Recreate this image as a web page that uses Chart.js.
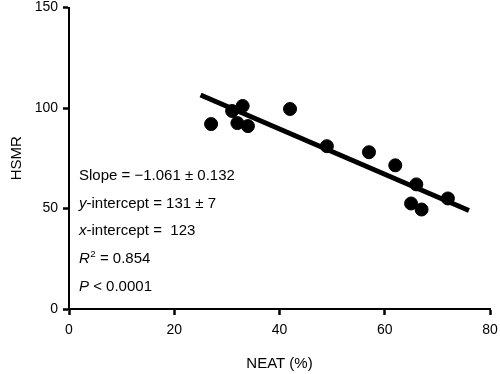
<!DOCTYPE html>
<html>
<head>
<meta charset="utf-8">
<script src="https://cdn.jsdelivr.net/npm/chart.js@4"></script>
<style>
html,body{margin:0;padding:0;background:#fff;}
#wrap{width:500px;height:374px;position:relative;}
</style>
</head>
<body>
<div id="wrap"><canvas id="c" width="500" height="374"></canvas></div>
<script>
// Data
const neat = [27, 31, 33, 32, 34, 42, 49, 57, 62, 66, 65, 67, 72];
const hsmr = [92, 98.5, 101, 92.5, 91, 99.5, 81, 78, 71.5, 62, 52.5, 49.5, 55];
const fitX = [25, 76];
const fitY = [106.5, 49];
const xTicks = [0, 20, 40, 60, 80];
const yTicks = [0, 50, 100, 150];
const xTitle = 'NEAT (%)';
const yTitle = 'HSMR';
// annotation lines: segments [text, style] where style: n normal, i italic, s superscript
const statLines = [
  [['Slope = \u22121.061 \u00b1 0.132', 'n']],
  [['y', 'i'], ['-intercept = 131 \u00b1 7', 'n']],
  [['x', 'i'], ['-intercept =  123', 'n']],
  [['R', 'i'], ['2', 's'], [' = 0.854', 'n']],
  [['P', 'i'], [' < 0.0001', 'n']]
];

const FONT = '"Liberation Sans", Arial, Helvetica, sans-serif';

const statsPlugin = {
  id: 'stats',
  afterDraw(chart) {
    const ctx = chart.ctx;
    const ca = chart.chartArea;
    const x0 = ca.left + 10;
    const y0 = 180;
    const step = 27.7;
    const size = 15;
    ctx.save();
    ctx.fillStyle = '#000';
    ctx.textBaseline = 'alphabetic';
    ctx.textAlign = 'left';
    statLines.forEach((segs, i) => {
      let x = x0;
      const y = y0 + i * step;
      segs.forEach(([t, st]) => {
        if (st === 's') {
          ctx.font = (size * 0.65) + 'px ' + FONT;
          ctx.fillText(t, x + 0.5, y - size * 0.42);
          x += ctx.measureText(t).width + 0.5;
        } else {
          ctx.font = (st === 'i' ? 'italic ' : '') + size + 'px ' + FONT;
          ctx.fillText(t, x, y);
          x += ctx.measureText(t).width;
        }
      });
    });
    ctx.restore();
  }
};

new Chart(document.getElementById('c'), {
  type: 'scatter',
  data: {
    datasets: [
      {
        type: 'line',
        data: fitX.map((x, i) => ({x: x, y: fitY[i]})),
        borderColor: '#000',
        borderWidth: 5,
        pointRadius: 0,
        fill: false,
        order: 2
      },
      {
        data: neat.map((x, i) => ({x: x, y: hsmr[i]})),
        backgroundColor: '#000',
        borderColor: '#000',
        pointRadius: 6.5,
        pointHoverRadius: 6.5,
        order: 1
      }
    ]
  },
  options: {
    responsive: false,
    animation: false,
    events: [],
    layout: { padding: { top: 5, right: 10, left: 0, bottom: 0 } },
    plugins: { legend: { display: false }, tooltip: { enabled: false } },
    scales: {
      x: {
        type: 'linear',
        min: 0, max: 80,
        afterBuildTicks: s => { s.ticks = xTicks.map(v => ({value: v})); },
        afterFit: s => { s.height = 65; s.paddingLeft = 0; s.paddingRight = 0; },
        grid: { drawOnChartArea: false, tickLength: 6, tickWidth: 2.5, tickColor: '#000' },
        border: { display: true, color: '#000', width: 2 },
        ticks: { color: '#000', font: { family: FONT, size: 14 }, padding: 7, maxRotation: 0 },
        title: { display: true, text: xTitle, color: '#000', font: { family: FONT, size: 15 }, padding: 1 }
      },
      y: {
        type: 'linear',
        min: 0, max: 150,
        afterBuildTicks: s => { s.ticks = yTicks.map(v => ({value: v})); },
        afterFit: s => { s.width = 69; s.paddingTop = 0; s.paddingBottom = 0; },
        grid: { drawOnChartArea: false, tickLength: 6, tickWidth: 2.5, tickColor: '#000' },
        border: { display: true, color: '#000', width: 2 },
        ticks: { color: '#000', font: { family: FONT, size: 14 }, padding: 5 },
        title: { display: true, text: yTitle, color: '#000', font: { family: FONT, size: 15 }, padding: 8 }
      }
    }
  },
  plugins: [statsPlugin]
});
</script>
</body>
</html>
